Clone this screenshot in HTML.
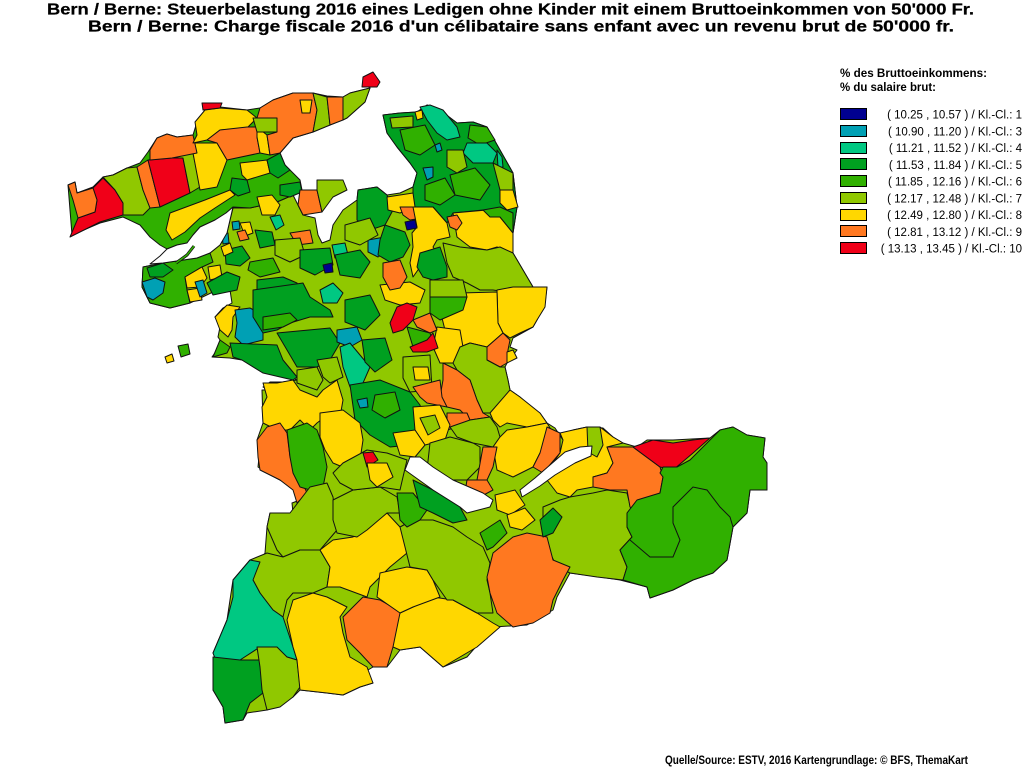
<!DOCTYPE html>
<html><head><meta charset="utf-8"><style>
html,body{margin:0;padding:0;background:#fff;}
svg{display:block;}
.b polygon{stroke:#111;stroke-width:1;stroke-linejoin:round;}
</style></head><body>
<svg width="1024" height="768" viewBox="0 0 1024 768" xmlns="http://www.w3.org/2000/svg">
<rect width="1024" height="768" fill="#fff"/>
<g font-family="'Liberation Sans', Arial, sans-serif" font-weight="bold" fill="#000">
<text x="47" y="14.5" font-size="15.5" stroke="#000" stroke-width="0.25" textLength="927" lengthAdjust="spacingAndGlyphs">Bern / Berne: Steuerbelastung 2016 eines Ledigen ohne Kinder mit einem Bruttoeinkommen von 50'000 Fr.</text>
<text x="88" y="31.5" font-size="15.5" stroke="#000" stroke-width="0.25" textLength="866" lengthAdjust="spacingAndGlyphs">Bern / Berne: Charge fiscale 2016 d'un célibataire sans enfant avec un revenu brut de 50'000 fr.</text>
<text x="840" y="77" font-size="11.5" textLength="147" lengthAdjust="spacingAndGlyphs">% des Bruttoeinkommens:</text>
<text x="840" y="91" font-size="11.5" textLength="96" lengthAdjust="spacingAndGlyphs">% du salaire brut:</text>
<text x="665" y="764" font-size="11.5" textLength="303" lengthAdjust="spacingAndGlyphs">Quelle/Source: ESTV, 2016 Kartengrundlage: © BFS, ThemaKart</text>
</g>
<g stroke="#000" stroke-width="1">
<rect x="840.5" y="108.5" width="26" height="11" fill="#000090"/>
<rect x="840.5" y="125.5" width="26" height="11" fill="#00A0B4"/>
<rect x="840.5" y="142.5" width="26" height="11" fill="#00C882"/>
<rect x="840.5" y="158.5" width="26" height="11" fill="#00A020"/>
<rect x="840.5" y="175.5" width="26" height="11" fill="#30B000"/>
<rect x="840.5" y="192.5" width="26" height="11" fill="#90C800"/>
<rect x="840.5" y="209.5" width="26" height="11" fill="#FFD700"/>
<rect x="840.5" y="225.5" width="26" height="11" fill="#FF7820"/>
<rect x="840.5" y="242.5" width="26" height="11" fill="#F00018"/>
</g>
<g font-family="'Liberation Sans', Arial, sans-serif" font-size="11.5" fill="#000" text-anchor="end">
<text x="1022" y="118.5">( 10.25 , 10.57 ) / Kl.-Cl.: 1</text>
<text x="1022" y="135.3">( 10.90 , 11.20 ) / Kl.-Cl.: 3</text>
<text x="1022" y="152">( 11.21 , 11.52 ) / Kl.-Cl.: 4</text>
<text x="1022" y="168.8">( 11.53 , 11.84 ) / Kl.-Cl.: 5</text>
<text x="1022" y="185.5">( 11.85 , 12.16 ) / Kl.-Cl.: 6</text>
<text x="1022" y="202.3">( 12.17 , 12.48 ) / Kl.-Cl.: 7</text>
<text x="1022" y="219">( 12.49 , 12.80 ) / Kl.-Cl.: 8</text>
<text x="1022" y="235.8">( 12.81 , 13.12 ) / Kl.-Cl.: 9</text>
<text x="1022" y="252.5">( 13.13 , 13.45 ) / Kl.-Cl.: 10</text>
</g>

<g class="b">
<!-- main base -->
<polygon fill="#90C800" points="142,287 143,267 163,263 197,258 210,253 220,245 227,233 230,220 233,208 250,208 277,202 293,195 303,215 315,218 318,235 322,243 330,240 333,225 343,210 357,200 358,190 377,187 387,195 400,193 413,187 417,173 410,163 397,147 387,133 383,115 400,113 417,112 427,105 440,110 457,123 473,122 487,127 500,150 513,173 517,207 513,233 513,253 533,287 547,287 545,303 537,320 533,327 513,338 510,347 517,350 507,363 505,367 508,380 510,390 520,397 530,407 540,413 547,423 555,428 563,440 573,430 587,427 603,428 613,437 623,443 637,447 647,440 673,440 710,438 720,430 733,427 747,435 765,438 763,457 767,463 767,490 750,490 747,513 733,527 727,560 713,573 693,580 673,590 650,598 647,587 620,580 600,577 570,573 557,597 553,610 527,625 493,627 467,657 443,667 420,647 400,650 387,667 373,667 363,673 373,683 360,687 343,695 327,693 300,690 293,697 267,710 247,713 243,720 225,723 223,707 213,690 217,663 213,653 227,620 233,580 250,560 260,562 265,553 267,527 270,513 287,517 293,513 292,503 300,500 293,487 280,480 267,473 258,467 260,447 257,440 263,423 262,390 270,390 263,387 270,382 283,382 297,380 280,373 263,373 242,360 230,358 212,357 222,343 218,337 220,327 215,317 223,308 232,303 230,290 213,292 190,303 170,308 150,303"/>
<!-- jura base -->
<polygon fill="#30B000" points="68,185 75,182 77,193 93,187 103,177 113,175 127,168 140,163 148,152 157,138 167,134 177,137 193,135 197,122 205,110 220,107 247,110 260,108 273,100 293,93 313,93 327,96 343,97 350,93 370,88 365,102 347,118 330,125 313,132 293,138 280,153 285,165 290,170 300,180 302,190 293,195 277,202 250,208 233,207 226,213 215,220 200,227 193,235 187,243 177,245 167,249 160,245 150,237 140,225 123,217 100,223 72,235"/>

<!-- Jura patches -->
<polygon fill="#F00018" points="70,237 78,218 95,212 97,200 93,188 103,178 115,190 123,203 123,215 100,222"/>
<polygon fill="#FF7820" points="68,185 75,182 77,193 93,188 97,200 95,212 78,218 73,200"/>
<polygon fill="#90C800" points="103,177 113,175 127,168 137,167 143,190 150,208 143,215 123,215 123,203 115,190"/>
<polygon fill="#FF7820" points="137,167 148,160 160,207 150,208 143,190"/>
<polygon fill="#F00018" points="148,160 172,158 183,158 190,193 160,207"/>
<polygon fill="#90C800" points="172,158 193,153 200,187 190,193 183,158"/>
<polygon fill="#FFD700" points="193,143 217,143 227,160 217,187 200,190 193,153"/>
<polygon fill="#FF7820" points="150,150 157,138 167,134 177,137 193,135 197,153 172,158 150,160"/>
<polygon fill="#FFD700" points="195,122 205,110 220,108 247,110 257,118 247,128 220,130 207,140 193,143 197,135"/>
<polygon fill="#FF7820" points="220,130 247,127 257,127 257,137 260,153 227,160 217,143 207,140"/>
<polygon fill="#FFD700" points="257,127 267,135 270,155 260,153 257,137"/>
<polygon fill="#90C800" points="253,118 277,118 277,132 257,132"/>
<polygon fill="#FF7820" points="260,108 273,100 293,93 313,93 317,110 313,132 293,138 280,153 270,155 267,135 277,132 277,118 257,118"/>
<polygon fill="#FFD700" points="300,100 312,100 310,113 302,113"/>
<polygon fill="#90C800" points="313,93 327,97 330,125 313,132 317,110"/>
<polygon fill="#FF7820" points="327,97 343,97 343,120 330,125"/>
<polygon fill="#90C800" points="343,97 350,93 370,88 365,102 347,118 343,120"/>
<polygon fill="#F00018" points="363,77 373,72 380,82 377,87 362,87"/>
<polygon fill="#F00018" points="202,103 222,103 220,108 203,110"/>
<polygon fill="#FFD700" points="170,213 205,200 230,190 235,195 215,208 200,218 185,232 172,240 166,230"/>
<polygon fill="#FFD700" points="240,163 267,160 270,173 247,180 242,175"/>
<polygon fill="#00A020" points="267,160 280,153 285,165 290,170 278,178 270,173"/>
<polygon fill="#00A020" points="280,185 300,182 302,192 290,197 280,195"/>
<polygon fill="#00A020" points="232,178 247,180 250,192 238,196 230,190"/>
<polygon fill="#FFD700" points="257,197 272,195 280,205 275,215 262,215"/>
<polygon fill="#FF7820" points="300,190 317,190 322,212 303,215 298,205"/>
<polygon fill="#90C800" points="317,180 343,180 347,190 333,197 322,212 317,190"/>

<!-- Seeland / Biel -->
<polygon fill="#30B000" points="142,287 143,267 163,263 197,258 210,253 213,262 200,268 185,277 187,290 190,303 170,308 150,303"/>
<polygon fill="#00A0B4" points="142,282 155,278 165,282 163,293 153,300 147,297"/>
<polygon fill="#00A020" points="147,268 163,263 173,270 163,277 150,277"/>
<polygon fill="#FFD700" points="185,277 202,267 207,278 200,287 187,288"/>
<polygon fill="#FFD700" points="187,290 200,288 202,300 190,302"/>
<polygon fill="#00A0B4" points="195,282 203,280 207,293 200,297"/>
<polygon fill="#FFD700" points="208,267 220,265 222,277 210,280"/>
<polygon fill="#00A020" points="207,283 227,272 240,277 237,290 213,295"/>
<polygon fill="#00A020" points="225,250 242,246 250,258 240,266 226,264"/>
<polygon fill="#00C882" points="270,217 280,215 284,225 276,230"/>
<polygon fill="#FFD700" points="240,223 250,222 253,233 245,236"/>
<polygon fill="#FF7820" points="237,232 245,230 249,239 240,241"/>
<polygon fill="#00A0B4" points="232,222 239,221 240,229 233,230"/>
<polygon fill="#00A0B4" points="222,234 228,233 229,243 223,244"/>
<polygon fill="#FFD700" points="221,247 230,243 233,252 224,256"/>
<polygon fill="#FF7820" points="290,233 310,230 313,243 297,245"/>
<polygon fill="#00A020" points="255,230 272,232 275,245 260,248"/>
<polygon fill="#90C800" points="275,240 300,238 305,255 290,262 275,255"/>
<polygon fill="#00A020" points="300,250 330,248 333,265 315,275 300,268"/>
<polygon fill="#30B000" points="250,262 273,258 280,272 260,277 248,270"/>
<polygon fill="#00A020" points="257,280 283,277 297,283 303,297 290,300 270,300 257,297"/>
<polygon fill="#00C882" points="332,245 345,243 348,255 335,258"/>
<polygon fill="#00A0B4" points="368,240 385,237 390,250 378,257 368,252"/>
<polygon fill="#00A020" points="357,200 358,190 377,187 387,195 393,210 385,225 370,230 357,220"/>
<polygon fill="#00A020" points="385,225 405,232 410,245 403,257 390,262 378,255 380,240"/>
<polygon fill="#00A020" points="335,255 360,250 370,262 360,278 340,275"/>
<polygon fill="#00C882" points="320,290 333,283 343,293 337,303 323,303"/>
<polygon fill="#000090" points="323,265 332,263 333,272 325,273"/>

<!-- Murten / Köniz -->
<polygon fill="#30B000" points="178,346 188,344 190,354 181,357"/>
<polygon fill="#FFD700" points="165,357 172,354 174,361 167,363"/>
<polygon fill="#FFD700" points="215,317 227,305 240,307 233,317 232,330 228,337 220,330"/>
<polygon fill="#00A0B4" points="235,310 250,308 263,315 263,340 243,345 235,337 237,323"/>
<polygon fill="#30B000" points="220,340 230,347 227,353 213,357"/>
<polygon fill="#00A020" points="230,343 277,345 283,360 297,377 293,380 263,373 242,360 233,357"/>
<polygon fill="#00A020" points="253,290 303,283 310,297 330,310 333,317 310,317 290,323 277,330 263,333 253,317"/>
<polygon fill="#30B000" points="263,317 290,313 297,320 283,327 263,330"/>
<polygon fill="#00A020" points="277,333 330,328 340,343 330,360 317,367 297,367 287,350"/>
<polygon fill="#90C800" points="297,370 317,367 323,380 317,390 297,383"/>
<polygon fill="#90C800" points="317,360 337,357 343,377 330,383 323,377"/>
<polygon fill="#00A020" points="345,300 370,295 380,315 365,330 345,322"/>
<polygon fill="#00A0B4" points="337,330 357,327 362,340 350,347 337,342"/>
<polygon fill="#00C882" points="340,347 350,343 370,367 363,383 360,390 350,387 343,367"/>
<polygon fill="#00A020" points="362,340 385,338 392,360 375,372 365,362"/>
<polygon fill="#90C800" points="345,225 370,218 378,235 360,245 345,240"/>

<!-- Oberaargau -->
<polygon fill="#00A020" points="383,115 400,113 417,112 427,105 440,110 457,123 473,122 487,127 500,150 513,173 517,207 513,233 500,217 483,210 453,213 447,223 433,207 413,207 413,187 417,173 410,163 397,147 387,133"/>
<polygon fill="#30B000" points="400,130 425,125 435,145 420,155 405,150"/>
<polygon fill="#30B000" points="450,175 475,168 490,185 480,200 455,195"/>
<polygon fill="#30B000" points="470,125 487,127 495,140 480,145 468,138"/>
<polygon fill="#30B000" points="425,185 445,178 455,195 440,205 425,200"/>
<polygon fill="#00C882" points="420,107 430,105 443,110 457,127 460,137 447,140 437,133 427,120"/>
<polygon fill="#00C882" points="467,143 487,143 497,153 493,163 473,163 463,153"/>
<polygon fill="#00C882" points="497,150 502,157 503,167 498,168"/>
<polygon fill="#00A0B4" points="423,168 433,167 433,177 427,180"/>
<polygon fill="#00A0B4" points="435,145 440,143 442,150 437,152"/>
<polygon fill="#90C800" points="447,150 463,150 467,167 457,173 447,167"/>
<polygon fill="#90C800" points="493,163 513,173 513,190 500,190"/>
<polygon fill="#90C800" points="390,118 413,116 413,127 392,128"/>
<polygon fill="#FFD700" points="415,112 422,110 423,118 417,120"/>
<polygon fill="#FFD700" points="500,190 513,190 518,207 507,210 500,203"/>
<polygon fill="#FFD700" points="387,197 413,193 415,207 400,213 388,210"/>
<polygon fill="#FF7820" points="400,207 420,207 422,218 410,220 403,215"/>
<polygon fill="#FFD700" points="413,207 433,207 447,223 450,237 437,240 433,247 437,253 430,260 420,267 413,277 410,263 413,247 412,233 417,227"/>
<polygon fill="#000090" points="405,222 415,220 417,228 407,230"/>
<polygon fill="#FFD700" points="453,213 487,210 500,217 513,233 513,253 497,247 487,250 470,247 457,237"/>
<polygon fill="#FF7820" points="447,217 457,215 462,223 457,230 450,227"/>
<polygon fill="#30B000" points="483,210 500,207 513,213 513,233 500,217 490,217"/>

<!-- Emmental -->
<polygon fill="#90C800" points="443,243 460,247 487,250 500,247 513,253 533,287 513,293 493,290 480,290 467,283 453,277 447,263"/>
<polygon fill="#00A020" points="420,253 440,247 447,267 447,277 433,280 423,277 417,267"/>
<polygon fill="#FFD700" points="497,290 513,287 547,287 545,307 537,320 533,327 520,333 510,338 503,333 498,323"/>
<polygon fill="#FFD700" points="460,293 497,292 498,323 503,333 487,347 470,343 460,347 445,330 440,310"/>
<polygon fill="#FFD700" points="437,327 460,330 463,347 460,363 440,363 433,347"/>
<polygon fill="#FF7820" points="487,347 503,333 510,340 508,350 507,363 500,367 487,360"/>
<polygon fill="#FFD700" points="507,352 513,350 517,358 507,363"/>
<polygon fill="#90C800" points="430,280 463,280 467,297 430,297"/>
<polygon fill="#FFD700" points="380,285 410,282 425,290 420,303 400,305 385,300"/>
<polygon fill="#FF7820" points="383,263 400,260 407,277 400,288 390,290 383,277"/>
<polygon fill="#30B000" points="430,297 467,297 463,310 440,320 430,313"/>
<polygon fill="#F00018" points="390,323 397,307 407,303 417,307 413,320 403,330 393,333"/>
<polygon fill="#FF7820" points="413,320 430,313 437,330 430,333 417,327"/>
<polygon fill="#30B000" points="407,327 430,333 433,343 413,347"/>
<polygon fill="#F00018" points="410,347 427,340 433,333 438,348 427,352 413,352"/>
<polygon fill="#90C800" points="403,357 430,355 432,390 410,392 403,378"/>
<polygon fill="#FFD700" points="413,367 428,367 430,380 415,380"/>
<polygon fill="#90C800" points="460,347 470,343 487,347 487,360 500,367 505,367 508,380 510,390 500,403 490,413 483,413 477,400 470,380 457,370 453,363"/>
<polygon fill="#FF7820" points="443,363 457,370 470,380 477,400 483,413 490,417 470,420 460,410 447,407 440,397 443,380"/>
<polygon fill="#FF7820" points="413,387 440,380 442,397 447,407 427,403 420,397"/>
<polygon fill="#FFD700" points="490,413 510,390 520,397 540,413 547,423 527,427 507,423 500,427 493,420"/>
<polygon fill="#FF7820" points="447,413 467,413 470,420 457,427 447,430"/>

<!-- Bern-Thun cluster -->
<polygon fill="#00A020" points="350,385 380,380 410,392 420,405 425,430 410,445 390,447 370,435 355,420"/>
<polygon fill="#30B000" points="375,395 395,392 400,410 385,418 372,410"/>
<polygon fill="#00A0B4" points="357,400 367,398 368,407 360,408"/>
<polygon fill="#FFD700" points="413,407 440,405 450,425 445,440 425,445 415,430"/>
<polygon fill="#90C800" points="420,418 435,415 440,428 428,435"/>
<polygon fill="#FFD700" points="393,433 415,430 425,445 415,457 400,455"/>

<!-- West Oberland -->
<polygon fill="#FFD700" points="263,383 277,383 293,380 300,390 317,397 323,390 337,380 343,400 340,417 330,413 317,423 310,430 300,420 290,430 277,430 263,423 262,407 267,397"/>
<polygon fill="#FFD700" points="320,413 343,410 360,423 363,440 360,460 345,468 333,463 325,450 320,437"/>
<polygon fill="#FF7820" points="257,440 267,427 280,423 287,433 290,457 300,477 307,493 297,503 293,490 280,480 260,470 258,457"/>
<polygon fill="#30B000" points="287,430 307,423 317,430 323,447 327,467 323,487 310,490 300,487 293,473 290,457"/>
<polygon fill="#90C800" points="270,513 290,513 310,487 327,483 333,497 337,530 320,550 310,553 300,550 283,557 277,550 267,527"/>
<polygon fill="#90C800" points="250,560 267,553 283,557 300,550 320,550 330,567 327,587 313,593 293,593 287,600 283,617 273,610 260,593 253,580"/>
<polygon fill="#00C882" points="233,580 250,560 260,562 253,580 260,593 273,610 283,617 293,647 297,660 287,657 260,647 240,660 217,663 213,653 227,620 233,597"/>
<polygon fill="#00A020" points="213,657 240,660 260,660 262,673 263,693 250,703 243,720 225,723 223,707 213,690"/>
<polygon fill="#90C800" points="257,647 277,647 287,657 297,660 300,687 293,697 280,707 267,710 262,690 260,667"/>
<polygon fill="#FFD700" points="293,600 313,593 327,597 347,607 340,617 343,633 350,657 367,667 373,683 360,687 343,695 327,693 300,690 297,660 293,647 287,620"/>
<polygon fill="#FF7820" points="343,617 363,597 380,600 403,613 400,633 393,647 387,667 373,667 360,653 347,640"/>
<polygon fill="#FFD700" points="400,613 413,607 433,597 453,600 477,613 493,623 500,627 477,647 443,667 420,647 400,650 393,647"/>
<polygon fill="#FFD700" points="320,550 333,540 353,537 387,513 400,527 413,537 407,553 390,567 370,587 367,597 340,587 327,587 330,567"/>
<polygon fill="#FFD700" points="380,573 407,567 427,570 433,580 440,597 413,607 400,613 377,597"/>
<polygon fill="#90C800" points="400,527 413,520 433,520 453,527 467,537 483,547 490,563 487,580 490,593 493,613 477,613 453,600 447,600 433,580 427,570 410,567"/>
<polygon fill="#90C800" points="333,500 353,490 380,487 397,497 400,513 387,513 367,530 357,537 337,533 333,520"/>
<polygon fill="#30B000" points="397,493 413,493 427,510 420,520 407,527 400,520"/>
<polygon fill="#00A020" points="413,480 433,490 460,507 467,520 453,523 433,513 420,507"/>
<polygon fill="#90C800" points="343,463 367,450 387,453 407,460 403,477 400,490 380,487 353,490 340,483 333,473"/>
<polygon fill="#F00018" points="363,453 373,452 378,460 367,467"/>
<polygon fill="#FFD700" points="367,463 387,463 393,477 377,487 370,480"/>

<!-- Thunersee north / Interlaken -->
<polygon fill="#90C800" points="430,443 450,437 473,443 480,447 480,467 467,480 440,480 427,470"/>
<polygon fill="#90C800" points="450,427 470,420 490,417 497,427 500,437 493,447 473,443 457,437"/>
<polygon fill="#FFD700" points="493,447 500,437 507,430 527,427 547,423 553,433 540,453 533,467 513,477 497,470"/>
<polygon fill="#FF7820" points="547,427 560,433 560,453 543,473 533,467 540,453"/>
<polygon fill="#FF7820" points="483,447 497,447 493,467 487,480 477,480"/>
<polygon fill="#FF7820" points="467,480 487,480 493,490 480,497 465,492"/>
<polygon fill="#FFD700" points="495,495 515,490 525,505 510,515 497,510"/>
<polygon fill="#30B000" points="480,533 500,520 507,533 493,547 487,550"/>
<polygon fill="#90C800" points="543,507 560,500 570,497 593,493 607,490 627,493 632,513 627,527 632,537 620,550 627,567 623,580 597,577 570,573 557,567 550,553 543,540"/>
<polygon fill="#FF7820" points="493,553 513,537 527,533 547,537 553,560 570,567 563,580 553,600 550,613 533,623 513,627 497,613 490,593 487,577"/>
<polygon fill="#00A020" points="540,520 553,508 562,517 553,533 543,537"/>
<polygon fill="#FFD700" points="507,515 525,508 535,520 522,530 510,527"/>

<!-- Oberhasli -->
<polygon fill="#FFD700" points="560,433 573,430 587,427 600,427 613,437 623,443 607,447 613,463 607,473 593,477 593,487 577,490 570,497 557,493 547,480 553,463 560,453 563,440"/>
<polygon fill="#90C800" points="587,427 600,427 603,445 597,457 588,452"/>
<polygon fill="#FF7820" points="607,447 633,447 660,467 663,477 660,493 640,513 630,507 627,490 610,490 593,487 593,477 607,473 613,463"/>
<polygon fill="#F00018" points="633,447 653,440 673,443 693,440 710,438 693,453 673,470 660,467"/>
<polygon fill="#30B000" points="627,513 637,500 660,493 663,477 660,473 663,467 677,467 690,460 710,440 720,430 733,427 747,435 765,438 763,457 767,463 767,490 750,490 747,513 733,527 727,560 713,573 693,580 673,590 650,598 647,587 623,580 627,567 620,550 632,537 627,527"/>
<polyline fill="none" stroke="#111" stroke-width="1" points="630,540 650,557 673,557 680,540 673,523 673,507 693,487 707,490 720,507 730,517 733,527"/>

<!-- Lakes -->
<polygon fill="#fff" points="233,207 226,213 215,220 200,227 193,235 187,243 177,245 167,249 160,256 150,264 163,263 197,258 210,253 220,245 227,233 230,220"/>
<polygon fill="#fff" points="410,457 405,470 433,490 460,507 467,513 490,507 493,500 483,493 453,480 433,467 420,457"/>
<polygon fill="#fff" points="520,490 535,478 550,465 565,452 580,447 592,446 591,456 575,463 555,475 540,486 522,497"/>
</g>
<polyline fill="none" stroke="#111" stroke-width="3" points="176,263 187,255 194,246"/>
<polyline fill="none" stroke="#30B000" stroke-width="1.5" points="176,263 187,255 194,246"/>
</svg>
</body></html>
